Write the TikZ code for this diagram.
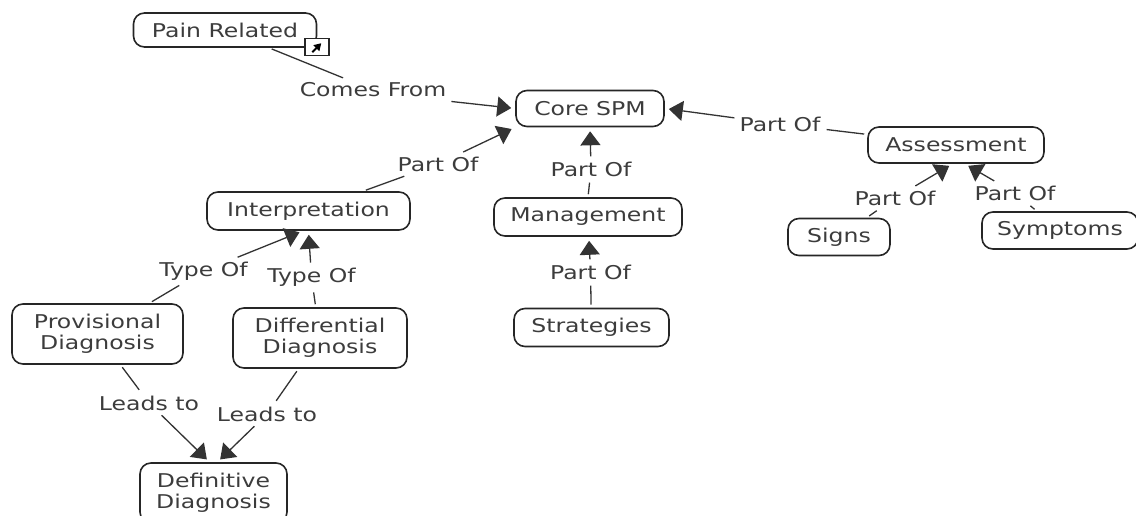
\documentclass[tikz,border=0pt]{standalone}
\usepackage{fontspec}
\setmainfont[FakeStretch=1.24]{DejaVu Sans}
\usepackage{xcolor}
\usetikzlibrary{arrows.meta,positioning}
\definecolor{inkgray}{RGB}{60,60,60}
\begin{document}
\begin{tikzpicture}[
x=1pt,y=-1pt,
font=\fontsize{19}{21}\selectfont,
text=inkgray,
concept/.style={draw=black!85,line width=1.6pt,rounded corners=11pt,align=center,inner sep=0pt},
linkword/.style={inner sep=4pt},
plain/.style={draw=black!80,line width=1.3pt,shorten >=2pt,shorten <=3pt},
oneway/.style={-{Triangle[length=14pt,width=20pt]},draw=black!80,line width=1.3pt,shorten >=4pt,shorten <=1pt}]
    \useasboundingbox (0,0) rectangle (1136,516);
    % Concepts
    \node[concept,minimum width=183pt,minimum height=34pt] (pain) at (225,30) {Pain Related};
    \node[concept,minimum width=148pt,minimum height=36pt] (core) at (590,108.5) {Core SPM};
    \node[concept,minimum width=176pt,minimum height=36pt] (assess) at (956,145) {Assessment};
    \node[concept,minimum width=102pt,minimum height=37pt] (signs) at (839,237) {Signs};
    \node[concept,minimum width=156pt,minimum height=37pt] (sympt) at (1060,230.5) {Symptoms};
    \node[concept,minimum width=203pt,minimum height=38pt] (interp) at (308.5,211) {Interpretation};
    \node[concept,minimum width=188pt,minimum height=38pt] (manage) at (588,217) {Management};
    \node[concept,minimum width=155pt,minimum height=38pt] (strat) at (591.5,327.5) {Strategies};
    \node[concept,minimum width=171pt,minimum height=60pt] (prov) at (97.5,334) {Provisional\\Diagnosis};
    \node[concept,minimum width=174pt,minimum height=60pt] (diff) at (320,338) {Differential\\Diagnosis};
    \node[concept,minimum width=147pt,minimum height=60pt] (defin) at (213.5,493) {Definitive\\Diagnosis};

    % Link icon on the corner of the first concept
    \node[draw=black!85,fill=white,line width=1.4pt,minimum width=24pt,minimum height=17pt,inner sep=0pt] (icon) at (317,47) {};
    \draw[-{Triangle[length=7pt,width=8pt]},line width=1.8pt,draw=black] (icon.south west) ++(8,-4) coordinate (iconfoot) -- ++(9,-9);

    % Link words
    \node[linkword] (comes) at (373,90) {Comes From};
    \node[linkword] (lpart) at (438,164) {Part Of};
    \node[linkword] (mpart) at (591,169) {Part Of};
    \node[linkword] (rpart) at (780,124) {Part Of};
    \node[linkword] (spart) at (895,198) {Part Of};
    \node[linkword] (ypart) at (1015,193) {Part Of};
    \node[linkword] (dpart) at (590.5,272) {Part Of};
    \node[linkword] (ptype) at (203.5,271) {Type Of};
    \node[linkword] (dtype) at (311.5,277) {Type Of};
    \node[linkword] (pleads) at (149,403) {Leads to};
    \node[linkword] (dleads) at (267,414) {Leads to};

    % Connectors
    \draw[plain] (pain) -- (comes);
    \draw[oneway] (comes.south east) -- (core.west);
    \draw[plain] (interp) -- (lpart);
    \draw[oneway] (lpart) -- (core.south west);
    \draw[plain] (manage.north) -- (mpart);
    \draw[oneway] (mpart) -- (core.south);
    \draw[plain] (assess) -- (rpart);
    \draw[oneway] (rpart) -- (core.east);
    \draw[plain] (signs) -- (spart);
    \draw[oneway] (spart) -- (assess.-100);
    \draw[plain] (sympt) -- (ypart);
    \draw[oneway] (ypart) -- (assess.-65);
    \draw[plain] (strat) -- (dpart);
    \draw[oneway] (dpart) -- (manage);
    \draw[plain] (prov) -- (ptype);
    \draw[oneway] (ptype) -- (interp.-105);
    \draw[plain] (diff) -- (dtype);
    \draw[oneway] (dtype) -- (interp.south);
    \draw[plain] (prov) -- (pleads);
    \draw[oneway] (pleads) -- (defin.97);
    \draw[plain] (diff) -- (dleads);
    \draw[oneway] (dleads) -- (defin.83);
\end{tikzpicture}
\end{document}
